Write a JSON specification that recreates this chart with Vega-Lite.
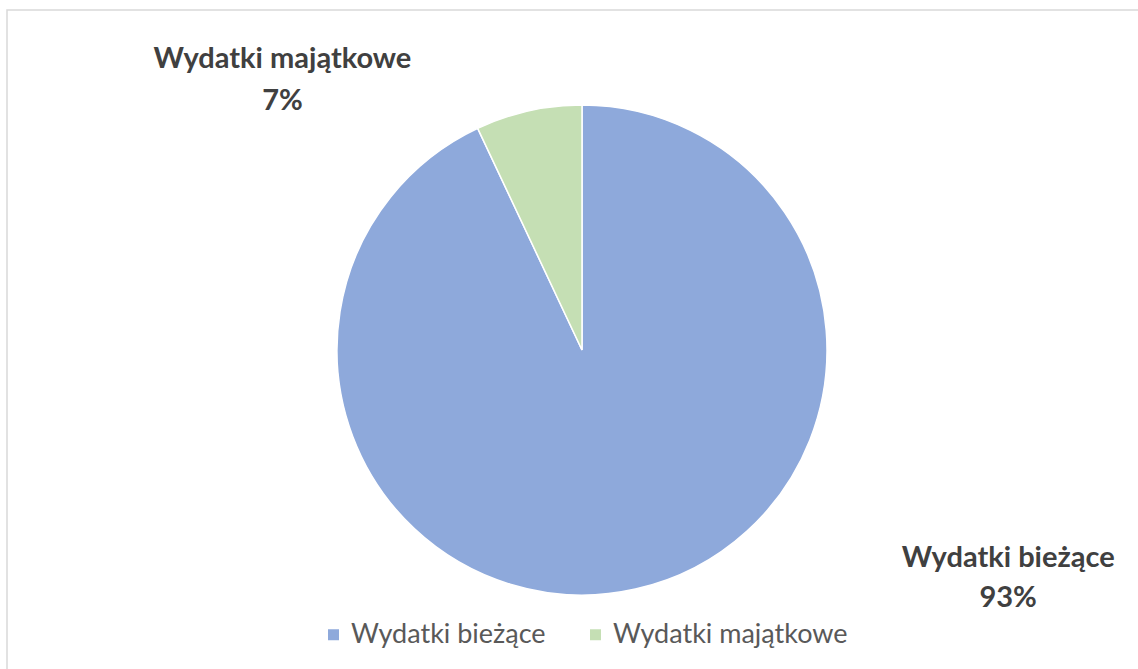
{
  "$schema": "https://vega.github.io/schema/vega-lite/v6.json",
  "width": 1150,
  "height": 680,
  "autosize": {"type": "none"},
  "padding": {"left": 7, "top": 10, "right": 0, "bottom": 0},
  "background": "white",
  "view": {"stroke": "#d9d9d9", "strokeWidth": 1.5},
  "config": {
    "font": "Lato"
  },
  "data": {
    "values": [
      {"category": "Wydatki bieżące", "value": 0.93},
      {"category": "Wydatki majątkowe", "value": 0.07}
    ]
  },
  "transform": [
    {"calculate": "datum.category + '\\n' + format(datum.value, '.0%')", "as": "label"}
  ],
  "encoding": {
    "theta": {"field": "value", "type": "quantitative", "stack": true},
    "order": {"field": "value", "type": "quantitative", "sort": "descending"}
  },
  "layer": [
    {
      "mark": {"type": "arc", "outerRadius": 245, "stroke": "white", "strokeWidth": 1.5},
      "encoding": {
        "color": {
          "field": "category",
          "type": "nominal",
          "sort": ["Wydatki bieżące", "Wydatki majątkowe"],
          "scale": {"domain": ["Wydatki bieżące", "Wydatki majątkowe"], "range": ["#8EA9DB", "#C5DFB4"]},
          "legend": {
            "title": null,
            "orient": "none",
            "direction": "horizontal",
            "legendX": 313,
            "legendY": 611,
            "symbolType": "square",
            "symbolSize": 121,
            "symbolStrokeWidth": 0,
            "labelFont": "Lato",
            "labelFontSize": 27,
            "labelColor": "#595959",
            "columnPadding": 36,
            "symbolOffset": 0,
            "labelOffset": 4,
            "labelLimit": 400
          }
        }
      }
    },
    {
      "transform": [{"filter": "datum.category == 'Wydatki majątkowe'"}],
      "mark": {"type": "text", "radius": 300, "dx": -365, "dy": 2, "fontSize": 29, "fontWeight": "bold", "color": "#404040", "lineBreak": "\n", "lineHeight": 42, "align": "center", "baseline": "middle"},
      "encoding": {"text": {"field": "label"}}
    },
    {
      "transform": [{"filter": "datum.category == 'Wydatki bieżące'"}],
      "mark": {"type": "text", "radius": 230, "dx": 376, "dy": -16, "fontSize": 29, "fontWeight": "bold", "color": "#404040", "lineBreak": "\n", "lineHeight": 40, "align": "center", "baseline": "middle"},
      "encoding": {"text": {"field": "label"}}
    }
  ]
}
